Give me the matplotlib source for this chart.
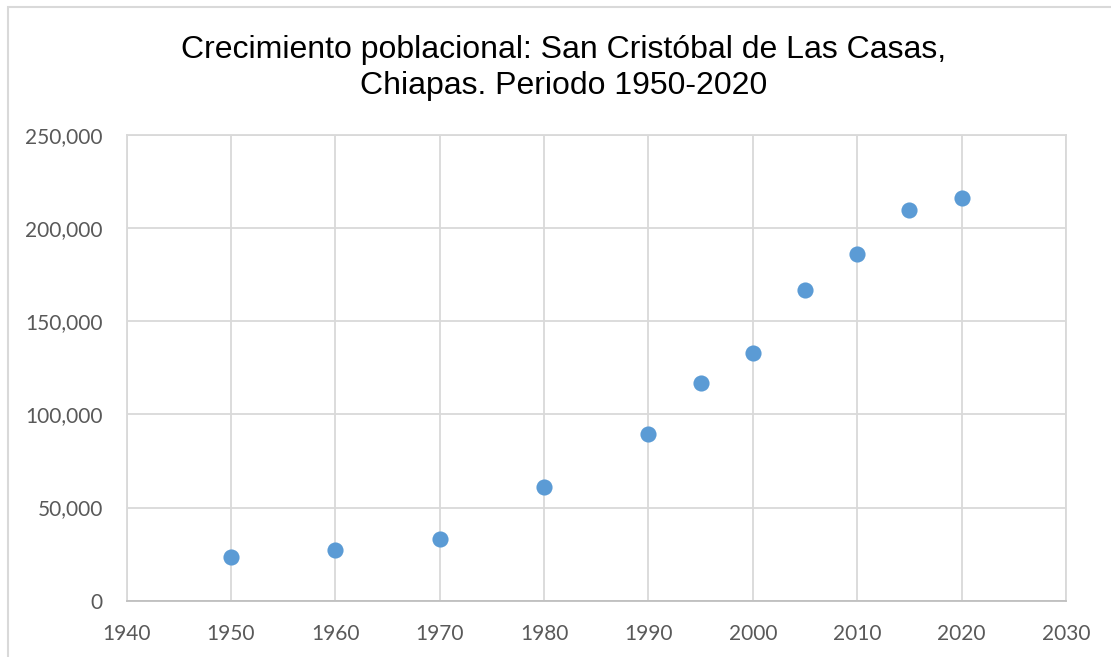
import matplotlib
matplotlib.use("Agg")
import matplotlib.pyplot as plt
from matplotlib.patches import Rectangle
from matplotlib.ticker import FuncFormatter, MultipleLocator

# datos
anios = [1950, 1960, 1970, 1980, 1990, 1995, 2000, 2005, 2010, 2015, 2020]
poblacion = [23343, 27400, 33100, 60800, 89700, 117100, 132900, 166700, 186200, 209900, 216300]

titulo = "Crecimiento poblacional: San Cristóbal de Las Casas,\nChiapas. Periodo 1950-2020"

fig = plt.figure(figsize=(11.11, 6.57), dpi=100)
# marco del area del grafico (solo se ve izquierda y arriba)
fig.patches.append(Rectangle((8/1111, -0.1), 1.2, 1 - 7/657 + 0.1, transform=fig.transFigure,
                             fill=False, edgecolor="#d9d9d9", linewidth=1.5))

ax = fig.add_axes([126.5/1111, 1 - 600.7/657, (1066-126.5)/1111, (600.7-135)/657])
ax.scatter(anios, poblacion, s=135, color="#5b9bd5", zorder=3, linewidths=0)

ax.set_xlim(1940, 2030)
ax.set_ylim(0, 250000)
ax.xaxis.set_major_locator(MultipleLocator(10))
ax.yaxis.set_major_locator(MultipleLocator(50000))
ax.yaxis.set_major_formatter(FuncFormatter(lambda v, p: f"{int(v):,}"))

ax.grid(True, color="#d9d9d9", linewidth=1.3, zorder=0)
for s in ["top", "right", "left"]:
    ax.spines[s].set_color("#d9d9d9")
    ax.spines[s].set_linewidth(1.3)
ax.spines["bottom"].set_color("#bfbfbf")
ax.spines["bottom"].set_linewidth(1.3)
ax.tick_params(length=0, labelsize=15, labelcolor="#595959")
ax.tick_params(axis="x", pad=17)
ax.tick_params(axis="y", pad=17)
for lab in ax.get_xticklabels() + ax.get_yticklabels():
    lab.set_fontfamily("Lato")

fig.text(564/1111, 1 - 68/657, titulo, ha="center", va="center", fontsize=23,
         fontfamily="Liberation Sans", color="black", linespacing=1.25)

fig.savefig("out.png", dpi=100)
